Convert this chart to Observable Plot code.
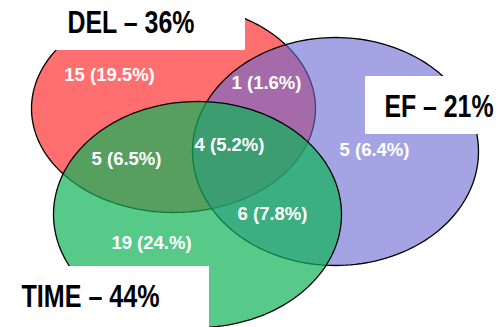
<!DOCTYPE html>
<html>
<head>
<meta charset="utf-8">
<script src="https://cdn.jsdelivr.net/npm/d3@7"></script>
<script src="https://cdn.jsdelivr.net/npm/@observablehq/plot@0.6"></script>
<style>
  html, body { margin: 0; padding: 0; background: #ffffff; }
  #chart svg { display: block; background: #ffffff; }
</style>
</head>
<body>
<div id="chart"></div>
<script>
// Sets and their overall shares
const setNames = ["DEL", "EF", "TIME"];
const setShares = [36, 21, 44];

// Regions of the diagram: count and share of responses
const regionNames = ["DEL only", "DEL & EF", "DEL & TIME", "DEL & EF & TIME", "EF & TIME", "EF only", "TIME only"];
const regionCounts = [15, 1, 5, 4, 6, 5, 19];
const regionPercents = ["19.5", "1.6", "6.5", "5.2", "7.8", "6.4", "24."];

// ---- layout (pixel space) ----
const W = 498, H = 327;
const ellipseShape = [
  {cx: 173, cy: 108, rx: 142, ry: 104, fill: "#ff0000", opacity: 0.565},
  {cx: 335, cy: 151, rx: 143, ry: 114, fill: "#6767d2", opacity: 0.6},
  {cx: 197, cy: 214, rx: 144, ry: 113, fill: "#0fb359", opacity: 0.7}
];
const regionAnchor = [[109, 75], [266, 83], [126, 159], [229, 145], [272, 214], [374, 150], [151, 243]];
const setBox = [
  {x1: 40, x2: 245, y1: 0, y2: 50, tx: 130.5, ty: 23, len: 127},
  {x1: 365, x2: 498, y1: 76, y2: 134, tx: 438.5, ty: 107, len: 109},
  {x1: 0, x2: 209, y1: 266, y2: 327, tx: 90, ty: 297, len: 138}
];

// Outline points of each set's ellipse
const outline = [];
setNames.forEach((name, i) => {
  const e = ellipseShape[i];
  for (let k = 0; k <= 360; k += 2) {
    const a = k * Math.PI / 180;
    outline.push({set: name, x: e.cx + e.rx * Math.cos(a), y: e.cy + e.ry * Math.sin(a)});
  }
});

const regions = regionNames.map((r, i) => ({
  region: r,
  x: regionAnchor[i][0],
  y: regionAnchor[i][1],
  label: `${regionCounts[i]} (${regionPercents[i]}%)`
}));

const sets = setNames.map((s, i) => ({
  ...setBox[i],
  label: `${s} – ${setShares[i]}%`
}));

const ellipseMarks = setNames.map((name, i) =>
  Plot.line(outline.filter(d => d.set === name), {
    x: "x", y: "y",
    curve: "linear-closed",
    fill: ellipseShape[i].fill,
    fillOpacity: ellipseShape[i].opacity,
    stroke: "#000000",
    strokeWidth: 1.3
  })
);

const chart = Plot.plot({
  width: W,
  height: H,
  margin: 0,
  x: {domain: [0, W], range: [0, W], axis: null},
  y: {domain: [0, H], range: [0, H], axis: null},
  style: {background: "#ffffff", overflow: "hidden"},
  marks: [
    ...ellipseMarks,
    Plot.text(regions, {
      x: "x", y: "y", text: "label",
      fill: "#ffffff",
      fontSize: 18.5,
      fontWeight: "bold",
      fontFamily: "'Liberation Sans', Arial, Helvetica, sans-serif",
      textAnchor: "middle"
    }),
    Plot.rect(sets, {x1: "x1", x2: "x2", y1: "y1", y2: "y2", fill: "#ffffff"}),
    Plot.text(sets, {
      x: "tx", y: "ty", text: "label",
      fill: "#000000",
      fontSize: 31,
      fontWeight: "bold",
      fontFamily: "'Liberation Sans', Arial, Helvetica, sans-serif",
      textAnchor: "middle"
    })
  ]
});

// Condense the set titles (the last text mark) to their box widths
const textGroups = d3.select(chart).selectAll('g[aria-label="text"]').nodes();
d3.select(textGroups[textGroups.length - 1]).selectAll("text")
  .attr("textLength", (d, i) => sets[i].len)
  .attr("lengthAdjust", "spacingAndGlyphs");

document.getElementById("chart").appendChild(chart);
</script>
</body>
</html>
